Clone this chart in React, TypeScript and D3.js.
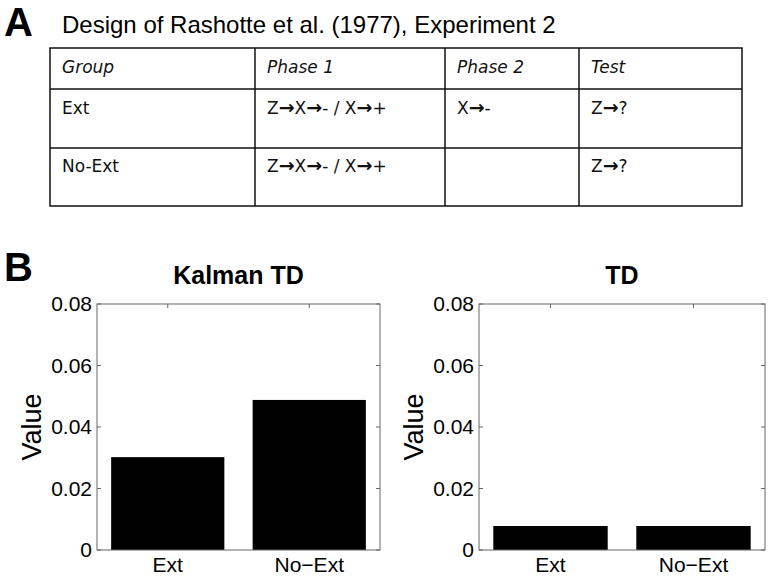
import React from "react";
import * as d3 from "d3";

const categories = ["Ext", "No-Ext"];
const kalmanValues = [0.0302, 0.0488];
const tdValues = [0.0078, 0.0078];
const yTicks = [0, 0.02, 0.04, 0.06, 0.08];
const panelTitles = ["Kalman TD", "TD"];

const tableHeader = ["Group", "Phase 1", "Phase 2", "Test"];
const tableRowExt = ["Ext", "Z→X→- / X→+", "X→-", "Z→?"];
const tableRowNoExt = ["No-Ext", "Z→X→- / X→+", "", "Z→?"];

const W = 769;
const H = 577;
const tableCols = [50, 255, 445, 579, 742];
const tableRowsY = [48, 89, 148, 206];
const textBaselines = [73, 114, 172];

const plotFont = "'Liberation Sans', Arial, Helvetica, sans-serif";
const tableFont = "'DejaVu Sans', 'Open Sans', sans-serif";

function Cell({ text }: { text: string }) {
  const parts = text.split(/(→)/);
  return (
    <>
      {parts.map((p, i) =>
        p === "→" ? (
          <tspan key={i} fontWeight="bold" fontSize={19}>
            {p}
          </tspan>
        ) : (
          <tspan key={i}>{p}</tspan>
        )
      )}
    </>
  );
}

function BarPanel({ x0, x1, title, values }: { x0: number; x1: number; title: string; values: number[] }) {
  const y0 = 304;
  const y1 = 550;
  const x = d3.scaleBand<string>().domain(categories).range([x0, x1]).paddingInner(0.2).paddingOuter(0.1);
  const y = d3.scaleLinear().domain([0, 0.08]).range([y1, y0]);
  const fmt = (v: number) => (v === 0 ? "0" : d3.format(".2f")(v));
  const tl = 4;
  const axisColor = "#666";
  return (
    <g>
      <text x={(x0 + x1) / 2} y={284} textAnchor="middle" fontFamily={plotFont} fontWeight="bold" fontSize={25}>
        {title}
      </text>
      {categories.map((c, i) => (
        <rect key={c} x={x(c)!} width={x.bandwidth()} y={y(values[i])} height={y1 - y(values[i])} fill="#000" />
      ))}
      <rect x={x0} y={y0} width={x1 - x0} height={y1 - y0} fill="none" stroke={axisColor} strokeWidth={1} />
      {yTicks.map((t) => (
        <g key={t}>
          <line x1={x0} x2={x0 + tl} y1={y(t)} y2={y(t)} stroke={axisColor} />
          <line x1={x1 - tl} x2={x1} y1={y(t)} y2={y(t)} stroke={axisColor} />
          <text x={x0 - 5} y={y(t) + 7} textAnchor="end" fontFamily={plotFont} fontSize={21}>
            {fmt(t)}
          </text>
        </g>
      ))}
      {categories.map((c) => {
        const cx = x(c)! + x.bandwidth() / 2;
        return (
          <g key={c}>
            <line x1={cx} x2={cx} y1={y0} y2={y0 + tl} stroke={axisColor} />
            <text x={cx} y={572} textAnchor="middle" fontFamily={plotFont} fontSize={21}>
              {c === "No-Ext" ? "No\u2212Ext" : c}
            </text>
          </g>
        );
      })}
      <text
        transform={`translate(${x0 - 56},${(y0 + y1) / 2}) rotate(-90)`}
        textAnchor="middle"
        fontFamily={plotFont}
        fontSize={27}
      >
        Value
      </text>
    </g>
  );
}

export default function App() {
  const rows = [tableHeader, tableRowExt, tableRowNoExt];
  return (
    <svg width={W} height={H} style={{ position: "absolute", left: 0, top: 0, background: "#fff" }}>
      <rect x={0} y={0} width={W} height={H} fill="#fff" />
      <text x={4} y={36} fontFamily={plotFont} fontWeight="bold" fontSize={40}>A</text>
      <text x={62} y={33} fontFamily={plotFont} fontSize={24}>
        Design of Rashotte et al. (1977), Experiment 2
      </text>
      <g>
        <rect x={tableCols[0]} y={tableRowsY[0]} width={tableCols[4] - tableCols[0]} height={tableRowsY[3] - tableRowsY[0]} fill="none" stroke="#111" strokeWidth={1.5} />
        {tableRowsY.slice(1, 3).map((ry) => (
          <line key={ry} x1={tableCols[0]} x2={tableCols[4]} y1={ry} y2={ry} stroke="#111" strokeWidth={1.5} />
        ))}
        {tableCols.slice(1, 4).map((cx) => (
          <line key={cx} x1={cx} x2={cx} y1={tableRowsY[0]} y2={tableRowsY[3]} stroke="#111" strokeWidth={1.5} />
        ))}
        {rows.map((r, ri) =>
          r.map((cell, ci) => (
            <text
              key={`${ri}-${ci}`}
              x={tableCols[ci] + 12}
              y={textBaselines[ri]}
              fontFamily={tableFont}
              fontSize={17}
              fontStyle={ri === 0 ? "italic" : "normal"}
              fill="#111"
            >
              <Cell text={cell} />
            </text>
          ))
        )}
      </g>
      <text x={4} y={281} fontFamily={plotFont} fontWeight="bold" fontSize={40}>B</text>
      <BarPanel x0={97} x1={380} title={panelTitles[0]} values={kalmanValues} />
      <BarPanel x0={479} x1={765} title={panelTitles[1]} values={tdValues} />
    </svg>
  );
}
